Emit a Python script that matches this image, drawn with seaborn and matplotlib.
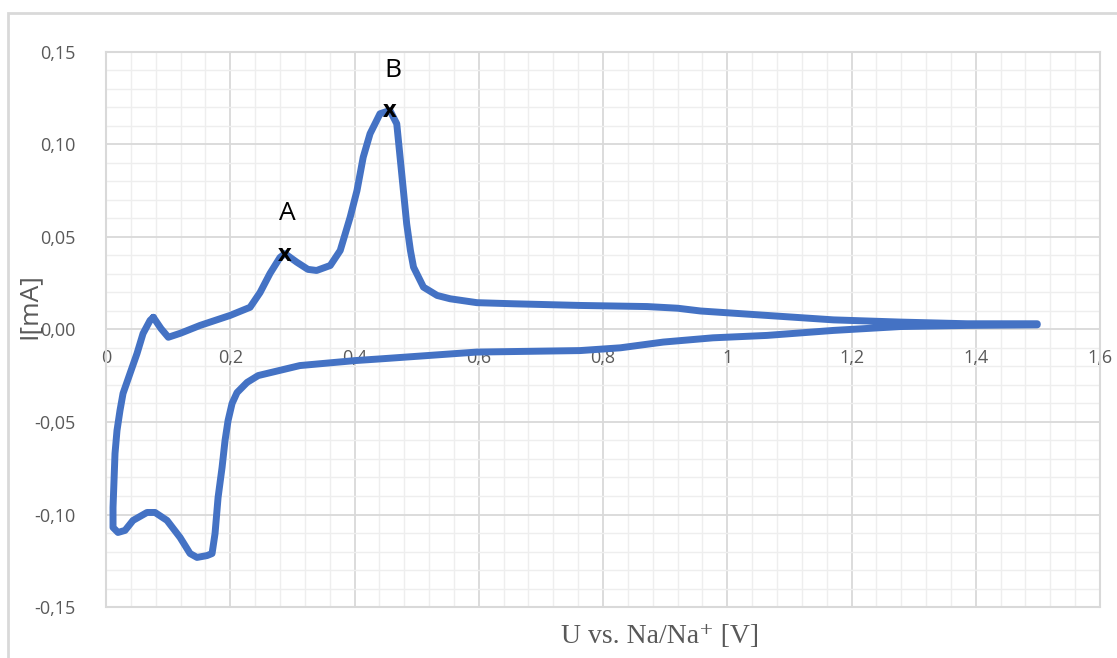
import numpy as np
import pandas as pd
import seaborn as sns
import matplotlib
matplotlib.use("Agg")
from matplotlib import pyplot as plt
from matplotlib.ticker import MultipleLocator, FuncFormatter
from matplotlib.patches import Rectangle

# Cyclic voltammogram (anodic branch, then cathodic back)
potential = [
    0.0762, 0.0885, 0.1003, 0.12, 0.1514, 0.1997, 0.2319, 0.248, 0.264, 0.280,
    0.288, 0.307, 0.325, 0.339, 0.361, 0.377, 0.393, 0.404, 0.414, 0.425,
    0.441, 0.457, 0.468, 0.476, 0.484, 0.490, 0.495, 0.511, 0.533, 0.554,
    0.597, 0.656, 0.763, 0.871, 0.92, 0.957, 1.064, 1.171, 1.279, 1.386, 1.499,
    1.499, 1.386, 1.279, 1.171, 1.064, 0.977, 0.897, 0.828, 0.763, 0.597,
    0.441, 0.401, 0.312, 0.245, 0.2271, 0.2109, 0.2029, 0.1965, 0.1916, 0.1868,
    0.1804, 0.1755, 0.1707, 0.1626, 0.1465, 0.1353, 0.1192, 0.0982, 0.0789,
    0.0660, 0.0435, 0.0306, 0.0193, 0.0113, 0.0113, 0.0129, 0.0145, 0.0177,
    0.0225, 0.0274, 0.0386, 0.0499, 0.0596, 0.0709, 0.0762,
]
current = [
    0.0066, 0.0005, -0.0042, -0.0020, 0.0022, 0.0076, 0.0120, 0.0200, 0.0303, 0.0389,
    0.0410, 0.0364, 0.0325, 0.0319, 0.0346, 0.0427, 0.0607, 0.0751, 0.0931, 0.1058,
    0.1166, 0.1184, 0.1112, 0.0842, 0.0571, 0.0427, 0.0337, 0.0229, 0.0184, 0.0166,
    0.0145, 0.0139, 0.0130, 0.0124, 0.0115, 0.0100, 0.0076, 0.0052, 0.0040, 0.0031, 0.0031,
    0.0025, 0.0022, 0.0016, -0.0005, -0.0032, -0.0045, -0.0068, -0.0099, -0.0114, -0.0122,
    -0.0159, -0.0168, -0.0195, -0.0249, -0.0286, -0.0341, -0.0400, -0.0492, -0.0600, -0.0746,
    -0.0908, -0.1103, -0.1211, -0.1222, -0.1232, -0.1211, -0.1124, -0.1032, -0.0989,
    -0.0989, -0.1032, -0.1086, -0.1097, -0.1070, -0.0962, -0.0816, -0.0670, -0.0546,
    -0.0438, -0.0346, -0.0238, -0.0130, -0.0022, 0.0049, 0.0066,
]

peak_labels = ["A", "B"]
peak_x = [0.288, 0.457]
peak_y = [0.0405, 0.118]

xticks = [0, 0.2, 0.4, 0.6, 0.8, 1.0, 1.2, 1.4, 1.6]
yticks = [-0.15, -0.10, -0.05, 0.0, 0.05, 0.10, 0.15]

df = pd.DataFrame({"U": potential, "I": current})

sns.set_theme(style="white")
plt.rcParams["font.family"] = ["Open Sans", "DejaVu Sans"]

fig = plt.figure(figsize=(11.17, 6.58), dpi=100)
ax = fig.add_axes([0.0949, 0.0775, 0.8899, 0.8435])

# outer chart frame
fig.patches.append(Rectangle((8 / 1117, -0.01), 1.1, 1 - 13 / 658 + 0.01,
                             transform=fig.transFigure, fill=False,
                             edgecolor="#d9d9d9", linewidth=2))

sns.lineplot(data=df, x="U", y="I", sort=False, estimator=None, ax=ax,
             color="#4472c4", linewidth=5, zorder=3,
             solid_joinstyle="round", solid_capstyle="round")

for lab, px, py in zip(peak_labels, peak_x, peak_y):
    ax.text(px, py, "x", ha="center", va="center", fontsize=17,
            fontweight="bold", color="black", zorder=4)
    ax.text(px + 0.004, py + 0.022, lab, ha="center", va="center",
            fontsize=19, color="black", zorder=4)

ax.set_xlim(0, 1.6)
ax.set_ylim(-0.15, 0.15)
ax.set_xticks(xticks)
ax.set_yticks(yticks)
ax.xaxis.set_minor_locator(MultipleLocator(0.04))
ax.yaxis.set_minor_locator(MultipleLocator(0.01))


def comma(v, nd):
    s = f"{v:g}" if nd == 0 else f"{v:.{nd}f}"
    if s.startswith("-") and float(s) == 0:
        s = s[1:]
    return s.replace(".", ",")


ax.xaxis.set_major_formatter(FuncFormatter(lambda v, p: comma(round(v, 2), 0)))
ax.yaxis.set_major_formatter(FuncFormatter(lambda v, p: comma(v, 2)))

ax.grid(which="major", color="#d9d9d9", linewidth=1.3, zorder=0)
ax.grid(which="minor", color="#eeeeee", linewidth=1.0, zorder=0)
ax.set_axisbelow(True)

ax.spines["bottom"].set_position(("data", 0))
ax.spines["bottom"].set_visible(False)
for s in ["top", "left", "right"]:
    ax.spines[s].set_color("#d9d9d9")
    ax.spines[s].set_linewidth(1.5)
ax.plot([0, 1.6], [-0.15, -0.15], color="#d9d9d9", linewidth=1.5,
        clip_on=False, zorder=1)

ax.tick_params(axis="both", which="both", length=0, labelsize=13,
               labelcolor="#595959")
ax.tick_params(axis="x", pad=14)
ax.tick_params(axis="y", pad=22)

ax.set_xlabel("")
ax.set_ylabel("")
fig.text(0.026, 0.535, "I[mA]", rotation=90, ha="center", va="center",
         fontsize=19, color="#595959")
fig.text(0.591, 0.033, "U vs. Na/Na\u207a [V]", ha="center", va="center",
         fontsize=20, color="#595959",
         family=["Liberation Serif", "DejaVu Serif"])

fig.savefig("out.png", dpi=100)
